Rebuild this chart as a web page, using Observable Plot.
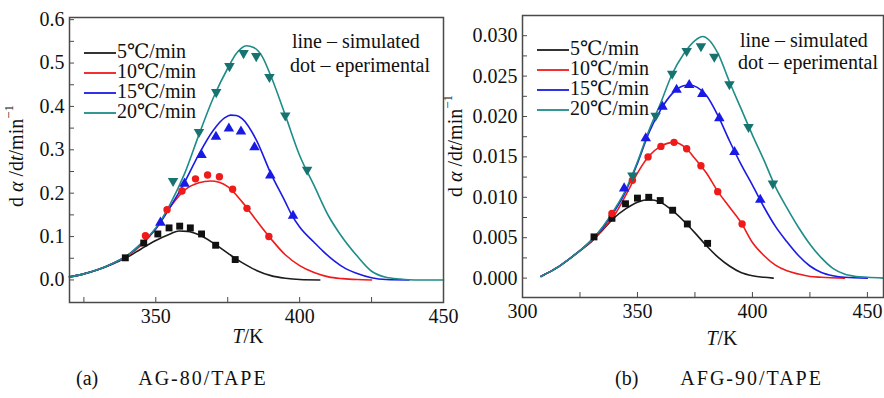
<!DOCTYPE html>
<html>
<head>
<meta charset="utf-8">
<script src="https://cdn.jsdelivr.net/npm/d3@7"></script>
<script src="https://cdn.jsdelivr.net/npm/@observablehq/plot@0.6"></script>
<style>
  html, body { margin: 0; padding: 0; background: #fff; }
  #wrap { position: relative; width: 884px; height: 398px; overflow: hidden; font-family: "Liberation Serif", "DejaVu Serif", serif; color: #111; }
  .panel { position: absolute; top: 0; }
  .panel svg { overflow: visible; background: transparent !important; font: 20px "Liberation Serif", "DejaVu Serif", serif !important; }
  .cap { position: absolute; top: 367px; font-size: 20px; white-space: pre; color: #111; }
  .cap .t { letter-spacing: 2px; }
</style>
</head>
<body>
<div id="wrap">
  <div class="panel" id="pa" style="left:0px;width:450px;"></div>
  <div class="panel" id="pb" style="left:440px;width:444px;"></div>
  <div class="cap" style="left:76px;">(a)<span style="display:inline-block;width:40px"></span><span class="t">AG-80/TAPE</span></div>
  <div class="cap" style="left:615px;">(b)<span style="display:inline-block;width:42px"></span><span class="t">AFG-90/TAPE</span></div>
</div>
<script>
// ---------- legend / series names ----------
const rates = ["5℃/min", "10℃/min", "15℃/min", "20℃/min"];
const colors = ["#1c1c1c", "#f01a1a", "#1a1ae6", "#1e8c87"];
const markColors = ["#111111", "#f01a1a", "#1a1ae6", "#17736f"];

// ---------- (a) AG-80/TAPE : simulated lines [T(K), dα/dt] ----------
const a_sim5 = [[320,0.007],[325,0.014],[330,0.024],[335,0.037],[340,0.052],[345,0.072],[350,0.091],[355,0.106],[358,0.113],[361,0.112],[365,0.104],[370,0.085],[375,0.062],[378,0.048],[380,0.040],[385,0.022],[390,0.010],[395,0.004],[400,0.001],[407,0.000]];
const a_sim10 = [[320,0.007],[325,0.014],[330,0.024],[335,0.038],[340,0.055],[345,0.081],[350,0.118],[355,0.168],[360,0.207],[365,0.224],[369,0.228],[372,0.225],[375,0.215],[380,0.180],[385,0.137],[390,0.095],[395,0.058],[400,0.033],[405,0.017],[410,0.007],[415,0.003],[420,0.001],[425,0.000]];
const a_sim15 = [[320,0.007],[325,0.014],[330,0.024],[335,0.038],[340,0.056],[345,0.084],[350,0.118],[355,0.168],[360,0.225],[365,0.290],[370,0.345],[374,0.374],[376,0.380],[378,0.379],[380,0.372],[385,0.322],[390,0.245],[395,0.180],[397,0.153],[400,0.122],[405,0.087],[408,0.067],[412,0.044],[416,0.026],[420,0.015],[425,0.005],[430,0.001],[438,0.000]];
const a_sim20 = [[320,0.007],[325,0.014],[330,0.024],[335,0.038],[340,0.056],[345,0.085],[350,0.120],[355,0.175],[360,0.245],[365,0.335],[370,0.420],[375,0.488],[378,0.522],[381.5,0.540],[384,0.536],[387,0.515],[390,0.470],[395,0.380],[400,0.287],[405,0.218],[410,0.148],[414,0.106],[420,0.055],[425,0.020],[430,0.006],[435,0.002],[440,0.000],[450,0.000]];

// ---------- (a) experimental dots ----------
const a_exp5 = [[339.4,0.051],[345.8,0.085],[350.7,0.106],[354.6,0.120],[358.3,0.124],[362,0.120],[365.9,0.106],[370.8,0.080],[377.6,0.047]];
const a_exp10 = [[346.4,0.102],[353.9,0.162],[359.1,0.205],[363.8,0.233],[368,0.242],[372.1,0.238],[376.7,0.209],[381.7,0.165],[389.3,0.100]];
const a_exp15 = [[351.6,0.132],[360,0.222],[365.9,0.288],[370.9,0.330],[375.4,0.349],[379.6,0.342],[384.3,0.306],[389.8,0.241],[397.7,0.148]];
const a_exp20 = [[356,0.228],[365,0.341],[371,0.433],[375.6,0.493],[380.5,0.523],[384.9,0.516],[389.5,0.468],[395,0.379],[402.6,0.254]];

// ---------- (b) AFG-90/TAPE : simulated lines ----------
const b_sim5 = [[308,0.0002],[310,0.0005],[315,0.0013],[320,0.0023],[325,0.0034],[330,0.0045],[335,0.0060],[340,0.0075],[345,0.0086],[350,0.0094],[355,0.0097],[360,0.0094],[365,0.0084],[370,0.0071],[375,0.0056],[380,0.0040],[385,0.0026],[390,0.0015],[395,0.0007],[400,0.0003],[405,0.0001],[409,0.0000]];
const b_sim10 = [[308,0.0002],[310,0.0005],[315,0.0013],[320,0.0023],[325,0.0034],[330,0.0046],[335,0.0061],[340,0.0078],[345,0.0103],[350,0.0130],[355,0.0151],[360,0.0163],[366,0.0168],[371,0.0161],[375,0.0148],[380,0.0130],[385,0.0107],[390,0.0088],[395,0.0069],[400,0.0044],[405,0.0028],[410,0.0016],[415,0.0009],[420,0.0005],[425,0.0002],[430,0.0001],[440,0.0000]];
const b_sim15 = [[308,0.0002],[310,0.0005],[315,0.0013],[320,0.0023],[325,0.0034],[330,0.0047],[335,0.0063],[340,0.0083],[345,0.0108],[350,0.0142],[355,0.0180],[360,0.0208],[365,0.0228],[370,0.0238],[373,0.0239],[376,0.0236],[380,0.0226],[385,0.0201],[390,0.0170],[395,0.0141],[400,0.0115],[405,0.0088],[410,0.0064],[415,0.0045],[420,0.0028],[425,0.0015],[430,0.0007],[435,0.0003],[440,0.0001],[450,0.0000]];
const b_sim20 = [[308,0.0002],[310,0.0005],[315,0.0013],[320,0.0023],[325,0.0034],[330,0.0047],[335,0.0064],[340,0.0085],[345,0.0110],[350,0.0144],[355,0.0183],[360,0.0216],[365,0.0252],[370,0.0277],[375,0.0294],[378.4,0.0299],[381,0.0295],[385,0.0278],[390,0.0243],[395,0.0210],[400,0.0177],[405,0.0146],[410,0.0113],[415,0.0087],[420,0.0063],[425,0.0042],[430,0.0025],[435,0.0012],[440,0.0005],[445,0.0002],[450,0.0001],[457,0.0000]];

// ---------- (b) experimental dots ----------
const b_exp5 = [[331.1,0.0051],[338.9,0.0074],[344.8,0.0092],[350,0.0099],[354.9,0.0100],[359.9,0.0096],[365.3,0.0084],[371.7,0.0067],[380.5,0.0043]];
const b_exp10 = [[338.9,0.0080],[347.8,0.0121],[354.6,0.0150],[360.2,0.0163],[365.9,0.0168],[371.4,0.0160],[377.6,0.0139],[384.9,0.0107],[395.5,0.0067]];
const b_exp15 = [[344.2,0.0111],[353.6,0.0173],[360.9,0.0212],[367,0.0233],[372.5,0.0239],[378.2,0.0228],[385.6,0.0198],[392.2,0.0156],[403.4,0.0097]];
const b_exp20 = [[347.8,0.0127],[357.9,0.0201],[365.1,0.0253],[371.4,0.0281],[377.6,0.0287],[383.4,0.0274],[390,0.0240],[398.3,0.0187],[408.9,0.0117]];

// ---------- tick values ----------
const a_xTicks = [350, 400, 450];
const a_xMinor = [325, 350, 375, 400, 425, 450];
const a_yTicks = [0, 0.1, 0.2, 0.3, 0.4, 0.5, 0.6];
const a_yMinor = [0, 0.05, 0.1, 0.15, 0.2, 0.25, 0.3, 0.35, 0.4, 0.45, 0.5, 0.55, 0.6];
const b_xTicks = [300, 350, 400, 450];
const b_xMinor = [325, 350, 375, 400, 425, 450];
const b_yTicks = [0, 0.005, 0.01, 0.015, 0.02, 0.025, 0.03];
const b_yMinor = [0, 0.0025, 0.005, 0.0075, 0.01, 0.0125, 0.015, 0.0175, 0.02, 0.0225, 0.025, 0.0275, 0.03];

// ---------- symbols ----------
const sqrt3 = Math.sqrt(3);
const triangleDown = {
  draw(context, size) {
    const y = -Math.sqrt(size / (sqrt3 * 3));
    context.moveTo(0, -y * 2);
    context.lineTo(-sqrt3 * y, y);
    context.lineTo(sqrt3 * y, y);
    context.closePath();
  }
};
const symbols = ["square", "circle", "triangle", triangleDown];
const symR = [3.9, 3.7, 3.9, 3.9];

const FRAME = "#4a4a4a";
const FONT = '"Liberation Serif", "DejaVu Serif", serif';

function buildPanel(cfg) {
  const marks = [];
  cfg.sims.forEach((s, i) => {
    marks.push(Plot.line(s, {x: d => d[0], y: d => d[1], stroke: colors[i], strokeWidth: 1.6, curve: "monotone-x"}));
  });
  cfg.exps.forEach((s, i) => {
    marks.push(Plot.dot(s, {x: d => d[0], y: d => d[1], symbol: symbols[i], r: symR[i], fill: markColors[i], stroke: "none"}));
  });
  marks.push(Plot.frame({stroke: FRAME, strokeWidth: 1.5}));
  marks.push(Plot.axisX({ticks: cfg.xMinor, tickSize: -5, tickFormat: () => "", stroke: FRAME, label: null}));
  marks.push(Plot.axisY({ticks: cfg.yMinor, tickSize: -5, tickFormat: () => "", stroke: FRAME, label: null}));
  marks.push(Plot.axisX({ticks: cfg.xTicks, tickSize: 0, tickPadding: 6, tickFormat: d3.format("d"), label: null, fill: "#111"}));
  marks.push(Plot.axisY({ticks: cfg.yTicks, tickSize: 0, tickPadding: 5, tickFormat: cfg.yFmt, label: null, fill: "#111"}));
  const svg = Plot.plot({
    width: cfg.width,
    height: 345,
    marginTop: cfg.mt, marginBottom: cfg.mb, marginLeft: cfg.ml, marginRight: cfg.mr,
    x: {domain: cfg.xDomain},
    y: {domain: cfg.yDomain},
    marks
  });
  svg.setAttribute("font-family", FONT);
  svg.setAttribute("font-size", "20");
  const g = d3.select(svg);
  // y-axis label
  const yl = g.append("text")
    .attr("transform", `translate(${cfg.ylx},${cfg.yly}) rotate(-90)`)
    .attr("text-anchor", "middle").attr("dominant-baseline", "middle")
    .attr("font-size", 20).attr("fill", "#111");
  yl.append("tspan").text("d ");
  yl.append("tspan").attr("font-style", "italic").text("α");
  yl.append("tspan").text(" /d");
  yl.append("tspan").attr("font-style", "italic").text("t");
  yl.append("tspan").text("/min");
  yl.append("tspan").attr("font-size", 13).attr("dy", -8).text("−1");
  // x-axis label
  const xl = g.append("text").attr("x", cfg.xlx).attr("y", cfg.xly)
    .attr("text-anchor", "middle").attr("dominant-baseline", "middle")
    .attr("font-size", 20).attr("fill", "#111");
  xl.append("tspan").attr("font-style", "italic").text("T");
  xl.append("tspan").text("/K");
  // legend
  rates.forEach((r, i) => {
    const y = cfg.legY + i * cfg.legDy;
    g.append("line").attr("x1", cfg.legX).attr("x2", cfg.legX + 32).attr("y1", y).attr("y2", y)
      .attr("stroke", colors[i]).attr("stroke-width", 1.8);
    g.append("text").attr("x", cfg.legX + 33).attr("y", y).attr("dominant-baseline", "middle")
      .attr("text-anchor", "start")
      .attr("font-size", 20).attr("fill", "#111").text(r);
  });
  // annotation
  g.append("text").attr("x", cfg.annX).attr("y", cfg.annY).attr("dominant-baseline", "middle")
    .attr("text-anchor", "start")
    .attr("font-size", 20).attr("fill", "#111").text("line – simulated");
  g.append("text").attr("x", cfg.annX - 2).attr("y", cfg.annY + cfg.annDy).attr("dominant-baseline", "middle")
    .attr("text-anchor", "start")
    .attr("font-size", 20).attr("fill", "#111").text("dot – eperimental");
  return svg;
}

document.getElementById("pa").appendChild(buildPanel({
  sims: [a_sim5, a_sim10, a_sim15, a_sim20],
  exps: [a_exp5, a_exp10, a_exp15, a_exp20],
  xDomain: [320, 450], yDomain: [-0.052, 0.605],
  xTicks: a_xTicks, xMinor: a_xMinor, yTicks: a_yTicks, yMinor: a_yMinor,
  yFmt: d3.format(".1f"),
  width: 450, mt: 17, mb: 43, ml: 69, mr: 7,
  ylx: 18, yly: 156, xlx: 248, xly: 338,
  legX: 84, legY: 53, legDy: 20,
  annX: 292, annY: 43, annDy: 24
}));

document.getElementById("pb").appendChild(buildPanel({
  sims: [b_sim5, b_sim10, b_sim15, b_sim20],
  exps: [b_exp5, b_exp10, b_exp15, b_exp20],
  xDomain: [300, 457], yDomain: [-0.0024, 0.0325],
  xTicks: b_xTicks, xMinor: b_xMinor, yTicks: b_yTicks, yMinor: b_yMinor,
  yFmt: d3.format(".3f"),
  width: 444, mt: 15, mb: 48, ml: 82, mr: 1,
  ylx: 17, yly: 146, xlx: 282, xly: 340,
  legX: 97, legY: 50, legDy: 20,
  annX: 300, annY: 42, annDy: 22
}));
</script>
</body>
</html>
